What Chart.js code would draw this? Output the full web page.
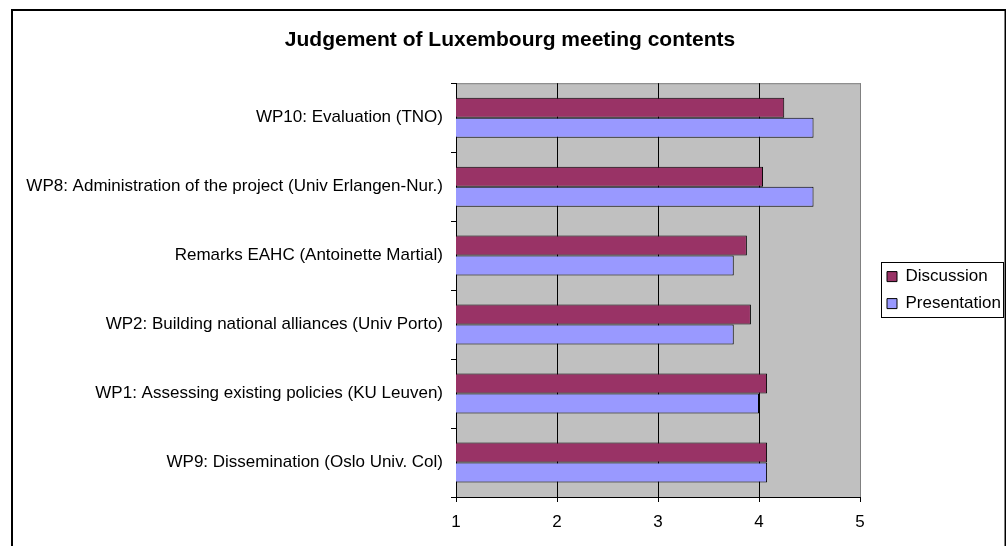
<!DOCTYPE html>
<html>
<head>
<meta charset="utf-8">
<script src="https://cdn.jsdelivr.net/npm/chart.js@4/dist/chart.umd.min.js"></script>
<style>
html, body { margin: 0; padding: 0; background: #fff; }
#wrap { position: relative; width: 1006px; height: 546px; }
</style>
</head>
<body>
<div id="wrap"><canvas id="chart" width="1006" height="546"></canvas></div>
<script>
// données
const categories = [
    'WP10: Evaluation (TNO)',
    'WP8: Administration of the project (Univ Erlangen-Nur.)',
    'Remarks EAHC (Antoinette Martial)',
    'WP2: Building national alliances (Univ Porto)',
    'WP1: Assessing existing policies (KU Leuven)',
    'WP9: Dissemination (Oslo Univ. Col)'
];
const discussion = [4.25, 4.04, 3.88, 3.92, 4.08, 4.08];
const presentation = [4.54, 4.54, 3.75, 3.75, 4.0, 4.08];
const xMin = 1, xMax = 5, xStep = 1;

Chart.defaults.font.family = '"Liberation Sans", Arial, sans-serif';
Chart.defaults.color = '#000';

// cadre, fond gris de la zone de tracé, bordure de la légende
const decor = {
    id: 'decor',
    beforeLayout(chart) {
        const lg = chart.legend;
        if (lg && !lg._patched) {
            const fit = lg.fit;
            lg.fit = function () { fit.call(this); this.width = 146; };
            lg._patched = true;
        }
    },
    afterLayout(chart) {
        // légende : un peu plus à droite, centrée sur la zone de tracé
        const lg = chart.legend, a = chart.chartArea;
        lg.left += 17;
        lg.right += 17;
        lg.top = a.top;
        lg.bottom = a.bottom;
        lg.height = a.bottom - a.top;
    },
    beforeDraw(chart) {
        const { ctx, chartArea: a } = chart;
        ctx.save();
        ctx.fillStyle = '#fff';
        ctx.fillRect(0, 0, chart.width, chart.height);
        ctx.strokeStyle = '#000';
        ctx.lineWidth = 2;
        ctx.strokeRect(12, 10, 993.5, 600);
        ctx.fillStyle = '#c0c0c0';
        ctx.fillRect(a.left, a.top, a.right - a.left, a.bottom - a.top);
        ctx.strokeStyle = '#808080';
        ctx.lineWidth = 1;
        ctx.strokeRect(a.left + 0.5, a.top + 0.5, a.right - a.left, a.bottom - a.top);
        ctx.restore();
    },
    afterDraw(chart) {
        const hb = chart.legend.legendHitBoxes;
        if (!hb || !hb.length) return;
        const { ctx } = chart;
        const w = Math.max(...hb.map(h => h.width));
        const last = hb[hb.length - 1];
        const x = Math.round(hb[0].left - 6) + 0.5;
        const y = Math.round(hb[0].top - 6) + 0.5;
        ctx.save();
        ctx.strokeStyle = '#000';
        ctx.lineWidth = 1;
        ctx.strokeRect(x, y, Math.round(w + 8), Math.round(last.top + last.height - hb[0].top + 11));
        ctx.restore();
    }
};

new Chart(document.getElementById('chart'), {
    type: 'bar',
    data: {
        labels: categories,
        datasets: [
            { label: 'Discussion', data: discussion, backgroundColor: '#993366', borderColor: '#000', borderWidth: 1, borderSkipped: false },
            { label: 'Presentation', data: presentation, backgroundColor: '#9999ff', borderColor: '#000', borderWidth: 1, borderSkipped: false }
        ]
    },
    options: {
        indexAxis: 'y',
        responsive: false,
        animation: false,
        categoryPercentage: 0.58,
        barPercentage: 1,
        layout: { padding: { left: 14, right: 0, top: 0, bottom: 0 } },
        scales: {
            x: {
                min: xMin, max: xMax,
                ticks: { stepSize: xStep, padding: 10, color: '#000', font: { size: 17 } },
                grid: { color: c => (c.tick && c.tick.value === xMax) ? '#808080' : '#000', tickColor: '#000', tickLength: 5 },
                border: { color: '#000' },
                afterFit(scale) { scale.height = 49; }
            },
            y: {
                ticks: { color: '#000', padding: 8, font: { size: 17 } },
                grid: { offset: true, drawOnChartArea: false, tickLength: 5, color: '#000' },
                border: { color: '#000' },
                afterFit(scale) { scale.width = 442; }
            }
        },
        plugins: {
            title: {
                display: true,
                text: 'Judgement of Luxembourg meeting contents',
                color: '#000',
                font: { size: 21, weight: 'bold' },
                padding: { top: 28, bottom: 30 }
            },
            legend: {
                position: 'right',
                labels: { boxWidth: 10, boxHeight: 10, padding: 10, color: '#000', font: { size: 17 } }
            },
            tooltip: { enabled: false }
        }
    },
    plugins: [decor]
});
</script>
</body>
</html>
